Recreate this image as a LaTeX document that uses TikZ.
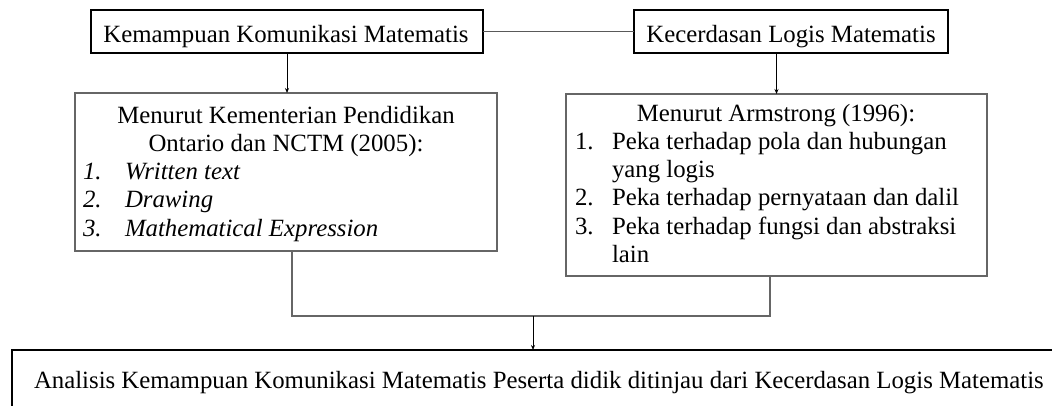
\documentclass[tikz,border=0pt]{standalone}
\usepackage{fontspec}
\setmainfont{Liberation Serif}
\usetikzlibrary{arrows.meta}
\begin{document}
\begin{tikzpicture}[x=1pt,y=-1pt,
  every node/.style={font=\fontsize{24.8}{28.3}\selectfont, inner sep=0pt, outer sep=0pt},
  thickbox/.style={draw=black, line width=2.4pt, rectangle, anchor=north west},
  thinbox/.style={draw=black!60, line width=1.3pt, rectangle, anchor=north west},
  link/.style={draw=black!65, line width=1.1pt},
  joinline/.style={draw=black!60, line width=1.5pt},
  arr/.style={draw=black, line width=0.9pt, -{Stealth[length=5pt,width=4pt]}},
  txt/.style={anchor=base},
  item/.style={anchor=base west}]
\clip (0,0) rectangle (1052,405);
\fill[white] (0,0) rectangle (1052,405);
% boxes
\node[thickbox, minimum width=392pt, minimum height=43pt] (boxA) at (91,10) {};
\node[thickbox, minimum width=314pt, minimum height=43pt] (boxB) at (634,10) {};
\node[thinbox, minimum width=422pt, minimum height=158pt] (boxC) at (75,93) {};
\node[thinbox, minimum width=421pt, minimum height=182pt] (boxD) at (566,94) {};
\node[thickbox, minimum width=1100pt, minimum height=120pt] (boxE) at (12,350) {};
% texts
\node[txt] (tA) at (286,42) {Kemampuan Komunikasi Matematis};
\node[txt] (tB) at (791,42) {Kecerdasan Logis Matematis};
\node[txt] (tC1) at (286,123) {Menurut Kementerian Pendidikan};
\node[txt] (tC2) at (286,151.3) {Ontario dan NCTM (2005):};
\node[item] (nC1) at (83,179.6) {\itshape 1.};
\node[item] (iC1) at (125,179.6) {\itshape Written text};
\node[item] (nC2) at (83,207.9) {\itshape 2.};
\node[item] (iC2) at (125,207.9) {\itshape Drawing};
\node[item] (nC3) at (83,236.2) {\itshape 3.};
\node[item] (iC3) at (125,236.2) {\itshape Mathematical Expression};
\node[txt] (tD1) at (776,121) {Menurut Armstrong (1996):};
\node[item] (nD1) at (575,149.3) {1.};
\node[item] (iD1) at (612,149.3) {Peka terhadap pola dan hubungan};
\node[item] (iD1b) at (612,177.6) {yang logis};
\node[item] (nD2) at (575,205.9) {2.};
\node[item] (iD2) at (612,205.9) {Peka terhadap pernyataan dan dalil};
\node[item] (nD3) at (575,234.2) {3.};
\node[item] (iD3) at (612,234.2) {Peka terhadap fungsi dan abstraksi};
\node[item] (iD3b) at (612,262.5) {lain};
\node[item] (tE) at (34,388) {Analisis Kemampuan Komunikasi Matematis Peserta didik ditinjau dari Kecerdasan Logis Matematis};
% connectors
\coordinate (jl) at (292,316);
\coordinate (jr) at (770,316);
\coordinate (jm) at (533,316);
\draw[link] (boxA.east) -- (boxB.west);
\draw[arr] (boxA.south) -- (boxA.south |- boxC.north);
\draw[arr] (boxD.north |- boxB.south) -- (boxD.north);
\draw[joinline] (boxC.south -| jl) -- (jl) -- (jr) -- (boxD.south -| jr);
\draw[arr] (jm) -- (jm |- boxE.north);
\end{tikzpicture}
\end{document}
